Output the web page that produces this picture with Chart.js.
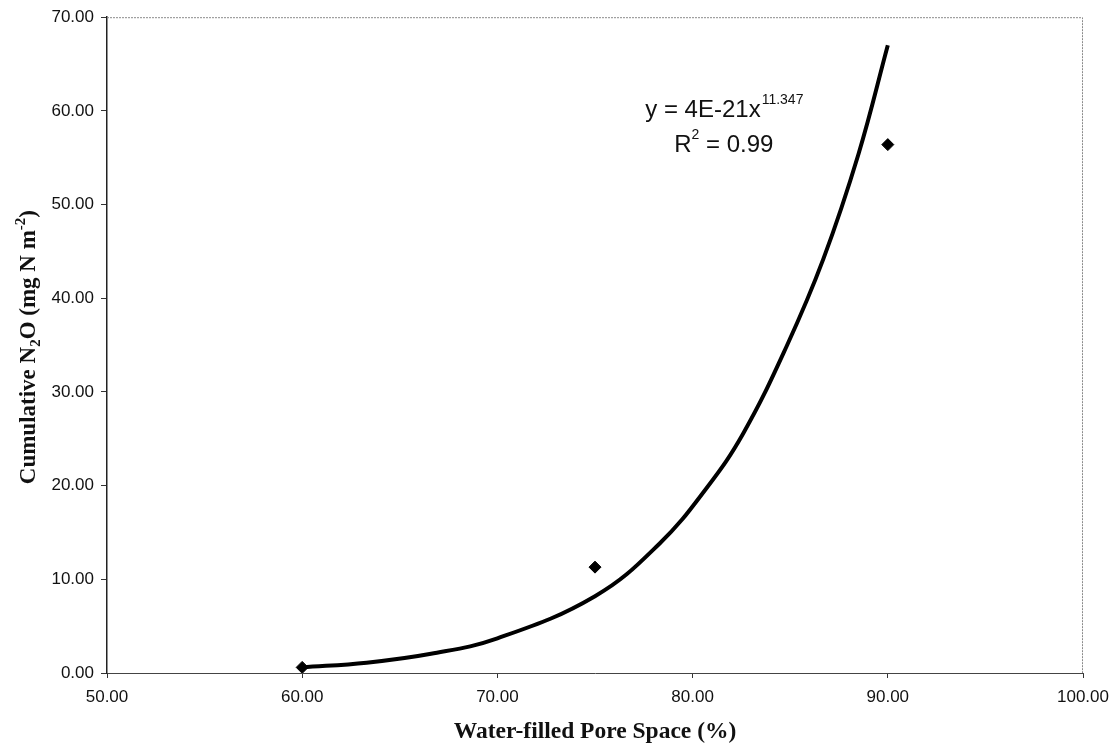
<!DOCTYPE html>
<html>
<head>
<meta charset="utf-8">
<title>Cumulative N2O vs WFPS</title>
<script src="https://cdn.jsdelivr.net/npm/chart.js@4.4.1/dist/chart.umd.min.js"></script>
<style>
  html, body { margin: 0; padding: 0; background: #fff; }
  #wrap { width: 1118px; height: 751px; position: relative; }
</style>
</head>
<body>
<div id="wrap"><canvas id="n2oChart"></canvas></div>
<script>
// measured cumulative emissions
var wfps = [60, 75, 90];
var n2o = [0.6, 11.3, 56.4];

// power trendline
var fitX = [60.0, 63.3, 66.6, 70.0, 75.0, 78.3, 80.7, 82.6, 84.8, 86.7, 88.5, 90.0];
var fitY = [0.6, 1.1, 2.05, 3.7, 8.2, 13.8, 19.7, 25.6, 34.8, 44.2, 55.4, 67.0];

var xTicks = [50, 60, 70, 80, 90, 100];
var yTicks = [0, 10, 20, 30, 40, 50, 60, 70];

var eqText = { base: 'y = 4E-21x', exp: '11.347', r2: '0.99' };
var eqPos = { x: 81.6, y: 59.3, y2: 55.6 };

function pts(xs, ys) {
  return xs.map(function (x, i) { return { x: x, y: ys[i] }; });
}

// frame, axis titles and trendline equation
var extras = {
  id: 'extras',
  afterDraw: function (chart) {
    var c = chart.ctx, a = chart.chartArea;
    var xs = chart.scales.x, ys = chart.scales.y;
    c.save();

    // top and right frame lines
    c.strokeStyle = '#8a8a8a';
    c.lineWidth = 1;
    c.setLineDash([2, 1]);
    c.beginPath();
    c.moveTo(a.left, a.top + 0.5);
    c.lineTo(a.right - 0.5, a.top + 0.5);
    c.lineTo(a.right - 0.5, a.bottom);
    c.stroke();
    c.setLineDash([]);

    // x title
    c.fillStyle = '#111';
    c.font = 'bold 23.5px "Liberation Serif", "Times New Roman", serif';
    c.textAlign = 'center';
    c.textBaseline = 'alphabetic';
    c.fillText('Water-filled Pore Space (%)', (a.left + a.right) / 2, 738);

    // y title with sub/superscripts
    var big = 'bold 23px "Liberation Serif", "Times New Roman", serif';
    var small = 'bold 15px "Liberation Serif", "Times New Roman", serif';
    var parts = [
      { t: 'Cumulative N', f: big, dy: 0 },
      { t: '2', f: small, dy: 5 },
      { t: 'O (mg N m', f: big, dy: 0 },
      { t: '-2', f: small, dy: -10 },
      { t: ')', f: big, dy: 0 }
    ];
    var total = 0;
    parts.forEach(function (p) { c.font = p.f; p.w = c.measureText(p.t).width; total += p.w; });
    c.translate(35, (a.top + a.bottom) / 2 + 2);
    c.rotate(-Math.PI / 2);
    c.textAlign = 'left';
    var px = -total / 2;
    parts.forEach(function (p) {
      c.font = p.f;
      c.fillText(p.t, px, p.dy);
      px += p.w;
    });
    c.setTransform(1, 0, 0, 1, 0, 0);

    // equation
    var f1 = '24px "Liberation Sans", Arial, sans-serif';
    var f2 = '14px "Liberation Sans", Arial, sans-serif';
    c.font = f1;
    var wb = c.measureText(eqText.base).width;
    c.font = f2;
    var we = c.measureText(eqText.exp).width;
    var cx = xs.getPixelForValue(eqPos.x);
    var bx = cx - (wb + we) / 2;
    var by = ys.getPixelForValue(eqPos.y);
    c.textAlign = 'left';
    c.font = f1;
    c.fillText(eqText.base, bx, by);
    c.font = f2;
    c.fillText(eqText.exp, bx + wb + 1, by - 13);

    var r1 = 'R', r2 = ' = ' + eqText.r2;
    c.font = f1;
    var wr = c.measureText(r1).width, wr2 = c.measureText(r2).width;
    c.font = f2;
    var ws = c.measureText('2').width;
    var rx = xs.getPixelForValue(eqPos.x) - (wr + ws + wr2) / 2;
    var ry = ys.getPixelForValue(eqPos.y2);
    c.font = f1;
    c.fillText(r1, rx, ry);
    c.font = f2;
    c.fillText('2', rx + wr, ry - 13);
    c.font = f1;
    c.fillText(r2, rx + wr + ws, ry);
    c.restore();
  }
};

var tickFont = { family: '"Liberation Sans", Arial, sans-serif', size: 17 };

var ctx = document.getElementById('n2oChart').getContext('2d');
var chart = new Chart(ctx, {
  type: 'scatter',
  data: {
    datasets: [{
      label: 'Fit',
      data: pts(fitX, fitY),
      showLine: true,
      borderColor: '#000',
      borderWidth: 4,
      pointRadius: 0,
      tension: 0.4,
      fill: false
    }, {
      label: 'Cumulative N2O',
      data: pts(wfps, n2o),
      pointStyle: 'rectRot',
      pointRadius: 6,
      backgroundColor: '#000',
      borderColor: '#000',
      borderWidth: 1
    }]
  },
  options: {
    responsive: true,
    maintainAspectRatio: false,
    animation: false,
    layout: { padding: { top: 14, right: 35, left: 0, bottom: 0 } },
    plugins: {
      legend: { display: false },
      tooltip: { enabled: false }
    },
    scales: {
      x: {
        type: 'linear',
        min: 50,
        max: 100,
        afterBuildTicks: function (s) { s.ticks = xTicks.map(function (v) { return { value: v }; }); },
        afterFit: function (s) { s.height = 78; },
        ticks: {
          color: '#111',
          font: tickFont,
          padding: 9,
          maxRotation: 0,
          callback: function (v) { return v.toFixed(2); }
        },
        grid: { drawOnChartArea: false, drawTicks: true, tickLength: 5, color: '#333' },
        border: { display: true, color: '#444', width: 1, dash: [3, 1] }
      },
      y: {
        type: 'linear',
        min: 0,
        max: 70,
        afterBuildTicks: function (s) { s.ticks = yTicks.map(function (v) { return { value: v }; }); },
        afterFit: function (s) { s.width = 107; },
        ticks: {
          color: '#111',
          font: tickFont,
          padding: 7,
          callback: function (v) { return v.toFixed(2); }
        },
        grid: { drawOnChartArea: false, drawTicks: true, tickLength: 6, color: '#333' },
        border: { display: true, color: '#222', width: 1.5 }
      }
    }
  },
  plugins: [extras]
});
</script>
</body>
</html>
